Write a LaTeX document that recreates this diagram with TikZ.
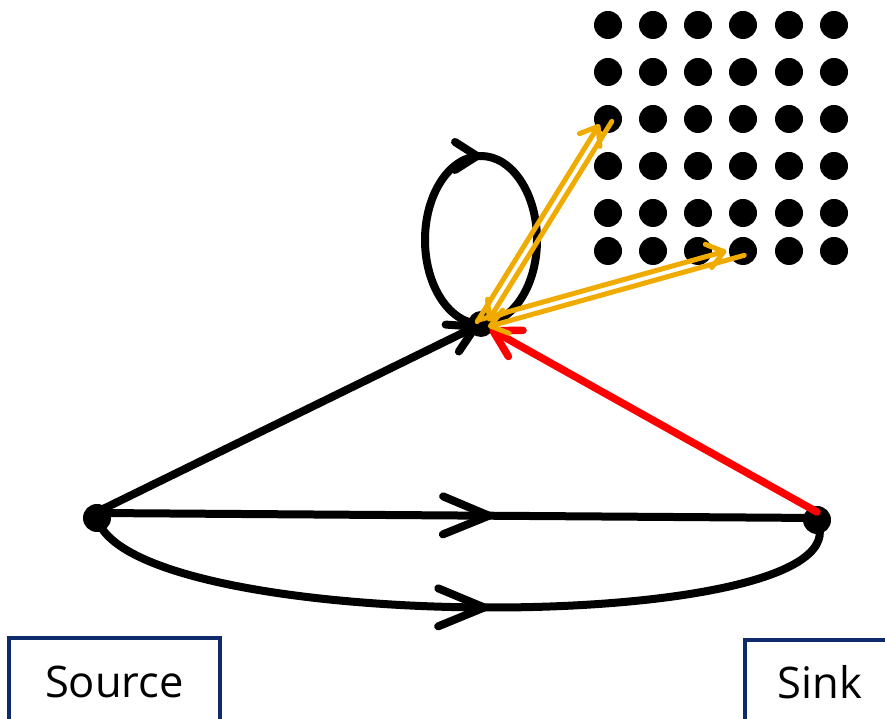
\documentclass[tikz,border=0pt]{standalone}
\usepackage{fontspec}
\setmainfont{Open Sans}
\usetikzlibrary{arrows.meta,decorations.markings,calc}
\definecolor{navy}{HTML}{0E2A6A}
\definecolor{gold}{HTML}{F0AB00}
\definecolor{redline}{HTML}{FF0000}
\begin{document}
\begin{tikzpicture}[x=1pt,y=1pt,
  dot/.style={circle,fill=black,inner sep=0pt,minimum size=28pt},
  hubdot/.style={circle,fill=black,inner sep=0pt,minimum size=26pt},
  edge/.style={line width=8pt,line cap=round,line join=round},
  midarrow/.style={postaction={decorate},decoration={markings,mark=at position #1 with {\arrow{Straight Barb[length=46pt,width=38pt,round]}}}},
  looparrow/.style={postaction={decorate},decoration={markings,mark=at position #1 with {\arrow{Straight Barb[length=22pt,width=28pt,round]}}}},
  endbarb/.style={-{Straight Barb[length=26pt,width=30pt,round]}},
  goldarrow/.style={draw=gold,line width=5pt,line cap=round,-{Straight Barb[length=16pt,width=24pt,round]}},
  labelbox/.style={draw=navy,line width=4.5pt,fill=white,inner sep=0pt,font=\fontsize{43.5}{50}\selectfont}
]
\useasboundingbox (0,0) rectangle (885,719);
\fill[white] (0,0) rectangle (885,719);

% main nodes
\node[dot] (src) at (97,201) {};
\node[dot] (snk) at (817,199) {};
\node[hubdot] (mid) at (481,395) {};

% grid of dots
\foreach \r/\y in {1/694,2/647,3/600,4/553,5/506,6/468}{
  \foreach \c/\x in {1/608,2/653,3/698,4/743,5/789,6/834}{
    \node[dot] (d\r\c) at (\x,\y) {};
  }
}

% labels
\node[labelbox,minimum width=211pt,minimum height=87pt] (srcbox) at (114.5,37.5) {Source};
\node[labelbox,minimum width=150pt,minimum height=85pt] (snkbox) at (820,36.5) {Sink};

% self loop on hub
\draw[edge,looparrow=0.5] (mid.center) arc[start angle=270,end angle=-90,x radius=56,y radius=84];

% source -> hub
\draw[edge,endbarb,shorten >=2pt] ([yshift=6pt]src.center) -- (mid.center);

% source -> sink straight
\draw[edge,midarrow=0.55] ([yshift=5pt]src.center) -- ([yshift=2pt]snk.center);

% source -> sink curved
\draw[edge,midarrow=0.53] (src.center) .. controls (130,82) and (872,82) .. (snk.center);

% sink -> hub (red)
\draw[edge,draw=redline,line width=7.5pt,endbarb,shorten >=10pt] ([yshift=8pt]snk.center) -- (mid.center);

% gold double arrows
\draw[goldarrow,shorten >=9pt] ($(mid.center)!4.5pt!90:(d31.center)$) -- ($(d31.center)!4.5pt!-90:(mid.center)$);
\draw[goldarrow,shorten >=6pt] ($(d31.center)!4.5pt!90:(mid.center)$) -- ($(mid.center)!4.5pt!-90:(d31.center)$);
\draw[goldarrow,shorten >=16pt] ($(mid.center)!4.5pt!90:(d64.center)$) -- ($(d64.center)!4.5pt!-90:(mid.center)$);
\draw[goldarrow,shorten >=6pt] ($(d64.center)!4.5pt!90:(mid.center)$) -- ($(mid.center)!4.5pt!-90:(d64.center)$);
\end{tikzpicture}
\end{document}
